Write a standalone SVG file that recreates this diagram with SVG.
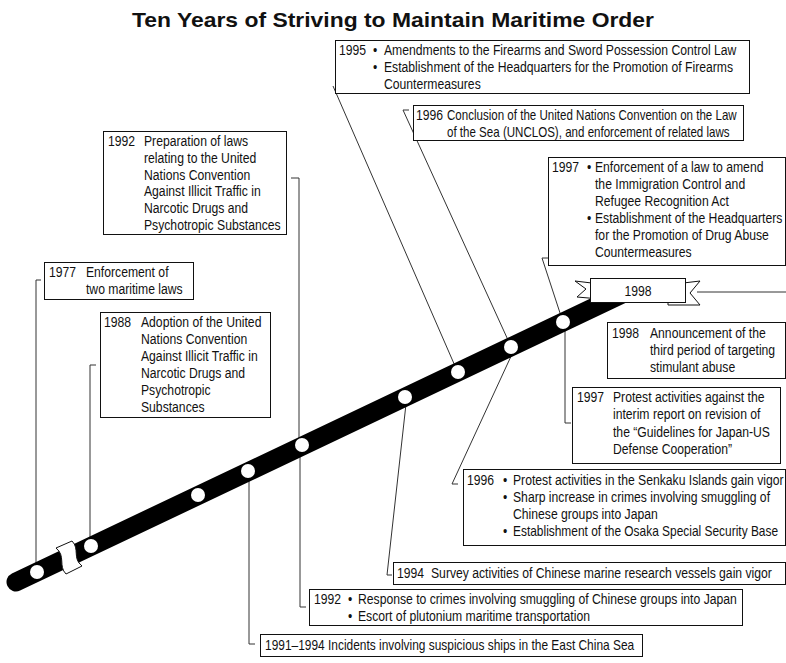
<svg xmlns="http://www.w3.org/2000/svg" width="786" height="663" viewBox="0 0 786 663">
<style>
text{font-family:"Liberation Sans",Arial,sans-serif;font-size:14px;fill:#111;transform-box:fill-box;transform-origin:0 50%;transform:scaleX(0.87)}
text.title{font-size:21px;font-weight:bold;transform:none}
text.s83{transform:scaleX(0.826)}
text.s85{transform:scaleX(0.852)}
text.mid{transform-origin:50% 50%}
.box{fill:#fff;stroke:#111;stroke-width:1}
.conn{fill:none;stroke:#333;stroke-width:1}
.dot{fill:#fff;stroke:none}
</style>
<rect width="786" height="663" fill="#fff"/>
<text class="title" x="132" y="27" textLength="522" lengthAdjust="spacingAndGlyphs">Ten Years of Striving to Maintain Maritime Order</text>

<g id="connectors">
<path class="conn" d="M36,566 V280 H41"/>
<path class="conn" d="M90,540 V365 H96"/>
<path class="conn" d="M299,439 V178 H291"/>
<path class="conn" d="M455,366 L333,86"/>
<path class="conn" d="M508,340 L403,110 H409"/>
<path class="conn" d="M561,316 L542,258 H548"/>
<path class="conn" d="M565,329 V423 H571"/>
<path class="conn" d="M513,352 L452,484 H458"/>
<path class="conn" d="M406,404 L387,575 H392"/>
<path class="conn" d="M300,451 V607 H306"/>
<path class="conn" d="M249,476 V644 H255"/>
<path class="conn" d="M697,292 H786" stroke="#555"/>
</g>

<g id="timeline">
<line x1="16" y1="582" x2="625" y2="292.7" stroke="#000" stroke-width="19" stroke-linecap="round"/>
<circle class="dot" cx="37" cy="572" r="7"/>
<circle class="dot" cx="91" cy="546" r="7"/>
<circle class="dot" cx="198" cy="495" r="7"/>
<circle class="dot" cx="248" cy="471" r="7"/>
<circle class="dot" cx="302" cy="445" r="7"/>
<circle class="dot" cx="405" cy="397" r="7"/>
<circle class="dot" cx="458" cy="372" r="7"/>
<circle class="dot" cx="511" cy="347" r="7"/>
<circle class="dot" cx="563" cy="322" r="7"/>
<path d="M56,548 L72,541 C80,549 72,558 82,566 L66,574 C58,566 66,556 56,548 Z" fill="#fff" stroke="#111" stroke-width="1"/>
</g>

<g id="ribbon1998">
<polygon points="600,284 575,281 586,289 577,297 600,299" fill="#fff" stroke="#111"/>
<polygon points="675,284 700,281 690,293 700,305 668,305 668,300" fill="#fff" stroke="#111"/>
<rect x="590.5" y="278.5" width="95" height="24" fill="#fff" stroke="#111"/>
<text class="mid" x="638" y="296" text-anchor="middle">1998</text>
</g>

<g id="n1977">
<rect class="box" x="44.5" y="262.5" width="149" height="37"/>
<text x="49" y="277">1977</text>
<text x="86" y="277">Enforcement of</text>
<text x="86" y="294">two maritime laws</text>
</g>

<g id="n1988">
<rect class="box" x="100.5" y="312.5" width="170" height="105"/>
<text x="104" y="327">1988</text>
<text x="141" y="327">Adoption of the United</text>
<text x="141" y="344">Nations Convention</text>
<text x="141" y="361">Against Illicit Traffic in</text>
<text x="141" y="378">Narcotic Drugs and</text>
<text x="141" y="395">Psychotropic</text>
<text x="141" y="412">Substances</text>
</g>

<g id="n1992a">
<rect class="box" x="103.5" y="131.5" width="183" height="103"/>
<text x="108" y="146">1992</text>
<text x="144" y="146">Preparation of laws</text>
<text x="144" y="163">relating to the United</text>
<text x="144" y="180">Nations Convention</text>
<text x="144" y="196">Against Illicit Traffic in</text>
<text x="144" y="213">Narcotic Drugs and</text>
<text x="144" y="230">Psychotropic Substances</text>
</g>

<g id="n1995">
<rect class="box" x="335.5" y="40.5" width="414" height="53"/>
<text x="339" y="55">1995</text>
<text x="373" y="55">•</text>
<text x="384" y="55">Amendments to the Firearms and Sword Possession Control Law</text>
<text x="373" y="72">•</text>
<text x="384" y="72">Establishment of the Headquarters for the Promotion of Firearms</text>
<text x="384" y="89">Countermeasures</text>
</g>

<g id="n1996a">
<rect class="box" x="413.5" y="105.5" width="330" height="35"/>
<text x="416" y="120">1996</text>
<text class="s83" x="447" y="120">Conclusion of the United Nations Convention on the Law</text>
<text class="s83" x="447" y="137">of the Sea (UNCLOS), and enforcement of related laws</text>
</g>

<g id="n1997a">
<rect class="box" x="548.5" y="157.5" width="237" height="108"/>
<text x="552" y="172">1997</text>
<text x="587" y="172">•</text>
<text x="595" y="172">Enforcement of a law to amend</text>
<text x="595" y="189">the Immigration Control and</text>
<text x="595" y="206">Refugee Recognition Act</text>
<text x="587" y="223">•</text>
<text x="595" y="223">Establishment of the Headquarters</text>
<text x="595" y="240">for the Promotion of Drug Abuse</text>
<text x="595" y="257">Countermeasures</text>
</g>

<g id="n1998">
<rect class="box" x="607.5" y="322.5" width="178" height="56"/>
<text x="612" y="338">1998</text>
<text x="650" y="338">Announcement of the</text>
<text x="650" y="355">third period of targeting</text>
<text x="650" y="372">stimulant abuse</text>
</g>

<g id="n1997b">
<rect class="box" x="572.5" y="387.5" width="208" height="76"/>
<text x="577" y="402">1997</text>
<text x="613" y="402">Protest activities against the</text>
<text x="613" y="419">interim report on revision of</text>
<text x="613" y="437">the “Guidelines for Japan-US</text>
<text x="613" y="454">Defense Cooperation”</text>
</g>

<g id="n1996b">
<rect class="box" x="463.5" y="469.5" width="322" height="76"/>
<text x="467" y="485">1996</text>
<text x="503" y="485">•</text>
<text x="513" y="485">Protest activities in the Senkaku Islands gain vigor</text>
<text x="503" y="502">•</text>
<text x="513" y="502">Sharp increase in crimes involving smuggling of</text>
<text x="513" y="519">Chinese groups into Japan</text>
<text x="503" y="536">•</text>
<text class="s85" x="513" y="536">Establishment of the Osaka Special Security Base</text>
</g>

<g id="n1994">
<rect class="box" x="393.5" y="562.5" width="392" height="22"/>
<text x="397" y="578">1994</text>
<text x="431" y="578">Survey activities of Chinese marine research vessels gain vigor</text>
</g>

<g id="n1992b">
<rect class="box" x="309.5" y="589.5" width="433" height="36"/>
<text x="314" y="604">1992</text>
<text x="348" y="604">•</text>
<text x="358" y="604">Response to crimes involving smuggling of Chinese groups into Japan</text>
<text x="348" y="621">•</text>
<text x="358" y="621">Escort of plutonium maritime transportation</text>
</g>

<g id="n1991">
<rect class="box" x="260.5" y="634.5" width="382" height="22"/>
<text class="s85" x="265" y="650">1991–1994 Incidents involving suspicious ships in the East China Sea</text>
</g>
</svg>
